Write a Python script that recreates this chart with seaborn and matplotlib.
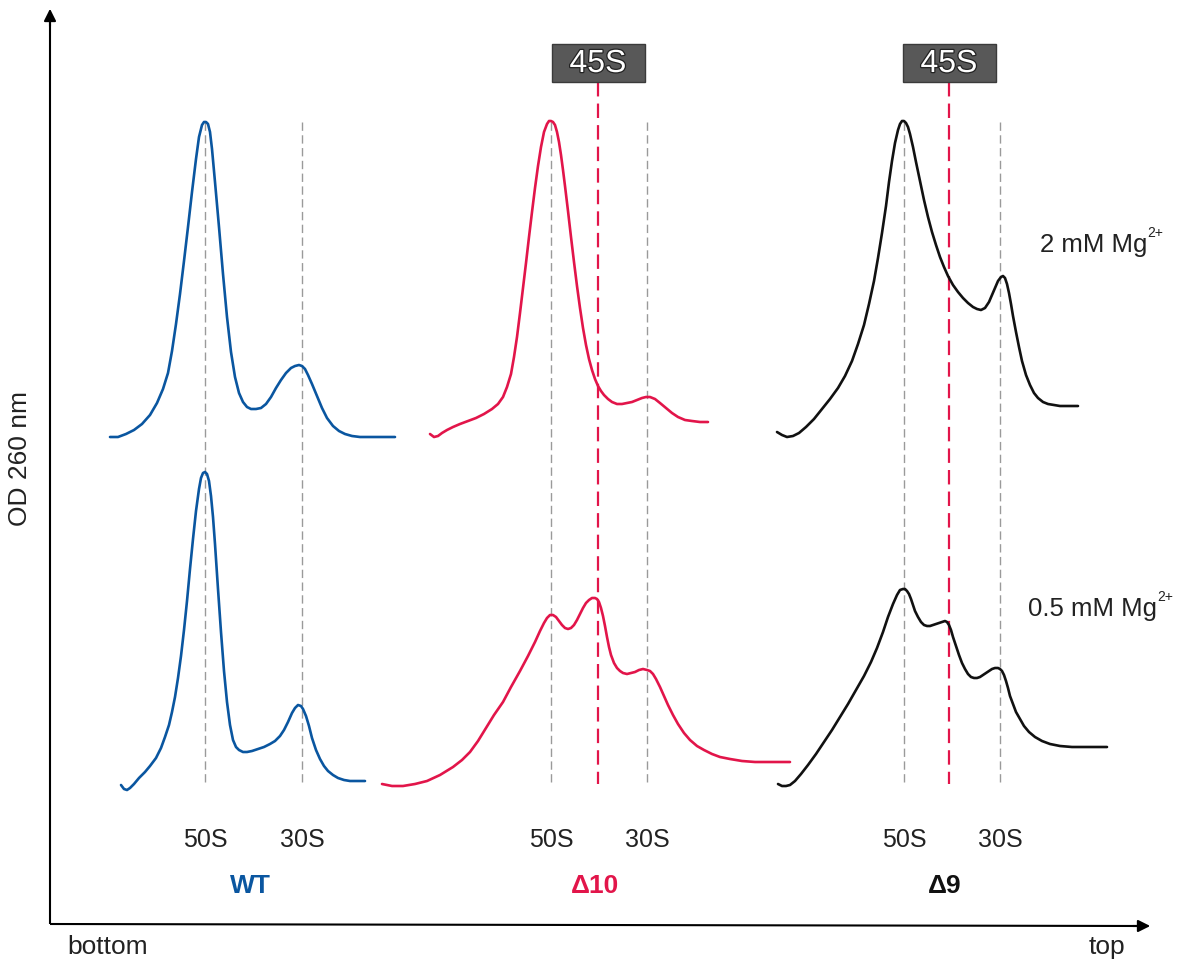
import numpy as np
import pandas as pd
import matplotlib
matplotlib.use("Agg")
import matplotlib.pyplot as plt
import matplotlib.patheffects as pe
from matplotlib.patches import Rectangle
import seaborn as sns

sns.set_theme(style="white")
plt.rcParams['font.family'] = ['Liberation Sans', 'DejaVu Sans']

# ---- data: traced gradient profiles (x = position along gradient, y = screen depth, smaller = higher OD)
wt_hi_x = [110, 118, 126, 134, 142, 150, 157, 163, 168, 172, 176, 180, 184, 188, 192, 196, 199, 202, 204, 206, 208, 210, 212, 215, 219, 223, 227, 231, 235, 239, 243, 247, 251, 256, 261, 266, 271, 276, 281, 286, 291, 295, 299, 302, 305, 308, 312, 317, 322, 327, 333, 339, 345, 352, 360, 370, 382, 395]
wt_hi_y = [438, 438, 435, 431, 425, 416, 404, 390, 374, 352, 325, 295, 262, 228, 193, 160, 138, 126, 123, 123, 125, 133, 150, 183, 228, 275, 318, 353, 378, 394, 403, 408, 410, 410, 409, 405, 398, 389, 381, 374, 369, 367, 366, 367, 370, 376, 385, 397, 409, 419, 427, 432, 435, 437, 438, 438, 438, 438]

wt_lo_x = [121, 124, 127, 130, 134, 139, 145, 150, 156, 161, 165, 169, 172, 175, 178, 181, 184, 187, 190, 193, 196, 199, 201, 203, 205, 207, 209, 211, 213, 215, 218, 221, 224, 227, 230, 233, 236, 239, 243, 247, 252, 258, 264, 270, 275, 280, 284, 288, 292, 295, 298, 301, 303, 306, 309, 312, 316, 320, 324, 328, 333, 338, 344, 350, 357, 365]
wt_lo_y = [786, 790, 791, 789, 785, 779, 773, 767, 759, 749, 738, 726, 713, 698, 679, 657, 631, 602, 570, 540, 512, 490, 479, 474, 473, 475, 482, 497, 518, 545, 590, 633, 672, 703, 726, 741, 748, 751, 753, 753, 752, 750, 748, 745, 742, 737, 731, 723, 714, 709, 706, 707, 710, 717, 727, 739, 751, 760, 767, 772, 776, 779, 781, 782, 782, 782]

d10_hi_x = [430, 434, 438, 442, 447, 453, 460, 468, 476, 484, 492, 498, 503, 507, 511, 514, 517, 520, 523, 526, 529, 532, 535, 538, 541, 544, 547, 549, 551, 553, 555, 557, 559, 561, 563, 565, 568, 571, 574, 577, 580, 583, 586, 589, 592, 595, 598, 601, 604, 608, 612, 617, 622, 627, 632, 637, 642, 646, 650, 655, 660, 666, 672, 678, 685, 692, 700, 708]
d10_hi_y = [435, 438, 437, 434, 431, 428, 425, 422, 419, 415, 410, 405, 398, 388, 375, 358, 338, 314, 289, 264, 238, 213, 189, 167, 148, 133, 125, 122, 122, 123, 126, 133, 143, 156, 171, 187, 212, 238, 263, 287, 309, 329, 346, 360, 371, 380, 387, 392, 396, 400, 403, 405, 405, 404, 403, 401, 399, 398, 398, 400, 404, 409, 414, 418, 421, 422, 423, 423]

d10_lo_x = [382, 392, 403, 415, 427, 440, 453, 462, 470, 478, 486, 494, 503, 511, 520, 528, 535, 540, 544, 547, 550, 553, 556, 559, 562, 565, 568, 571, 574, 577, 580, 583, 586, 589, 592, 595, 597, 599, 601, 603, 605, 607, 609, 611, 614, 617, 620, 623, 627, 631, 635, 639, 643, 647, 650, 653, 656, 660, 664, 668, 673, 678, 684, 690, 697, 704, 712, 720, 730, 742, 755, 770, 790]
d10_lo_y = [785, 787, 787, 785, 782, 776, 768, 761, 753, 742, 729, 716, 703, 688, 672, 657, 643, 632, 624, 619, 616, 616, 618, 622, 626, 629, 630, 629, 626, 621, 615, 609, 604, 601, 599, 599, 600, 603, 609, 617, 627, 638, 648, 656, 664, 669, 672, 674, 675, 674, 673, 671, 670, 671, 672, 675, 680, 688, 697, 706, 716, 725, 734, 741, 747, 751, 755, 758, 760, 762, 763, 763, 763]

d9_hi_x = [777, 782, 787, 793, 799, 806, 814, 822, 830, 838, 845, 852, 858, 864, 869, 874, 878, 882, 886, 889, 892, 895, 898, 900, 902, 904, 906, 908, 910, 913, 916, 920, 924, 928, 932, 936, 940, 944, 948, 953, 958, 963, 968, 973, 977, 981, 985, 989, 992, 995, 998, 1001, 1003, 1005, 1007, 1009, 1011, 1013, 1016, 1019, 1022, 1026, 1030, 1034, 1038, 1043, 1048, 1054, 1060, 1068, 1078]
d9_hi_y = [433, 436, 438, 437, 434, 428, 420, 410, 400, 389, 377, 362, 345, 326, 305, 282, 259, 234, 207, 183, 162, 144, 131, 125, 122, 122, 124, 128, 135, 148, 163, 182, 201, 218, 233, 246, 258, 268, 277, 286, 293, 299, 304, 308, 310, 311, 309, 303, 296, 289, 282, 278, 277, 279, 285, 294, 305, 317, 333, 348, 362, 376, 386, 394, 399, 403, 405, 406, 407, 407, 407]

d9_lo_x = [778, 782, 786, 790, 795, 801, 808, 816, 824, 832, 840, 848, 856, 864, 871, 877, 883, 888, 893, 897, 900, 903, 905, 907, 909, 911, 913, 915, 918, 921, 924, 927, 930, 933, 936, 939, 942, 945, 947, 949, 951, 953, 956, 959, 962, 965, 968, 971, 974, 977, 980, 983, 986, 989, 992, 995, 998, 1000, 1002, 1004, 1006, 1008, 1010, 1013, 1016, 1020, 1024, 1029, 1035, 1042, 1050, 1060, 1072, 1088, 1107]
d9_lo_y = [785, 787, 787, 786, 782, 775, 766, 755, 743, 731, 718, 705, 691, 677, 663, 649, 633, 618, 605, 596, 591, 590, 590, 592, 595, 600, 606, 612, 618, 623, 626, 627, 627, 626, 625, 624, 623, 622, 623, 626, 631, 638, 647, 656, 664, 670, 675, 678, 679, 679, 678, 676, 674, 672, 670, 669, 669, 670, 672, 676, 682, 689, 697, 705, 713, 720, 727, 733, 738, 742, 745, 747, 748, 748, 748]

# marker positions per strain
strains = ["WT", "Δ10", "Δ9"]
pos_50S = [205, 551, 904]
pos_30S = [302, 647, 1000]
pos_45S = [None, 598, 949]
strain_colors = ["#0a56a0", "#e2154a", "#111111"]
conditions = ["2 mM Mg", "0.5 mM Mg"]

fig = plt.figure(figsize=(11.86, 9.62), dpi=100)
ax = fig.add_axes([0, 0, 1, 1])

# gray marker lines
for x50, x30 in zip(pos_50S, pos_30S):
    for xv in (x50, x30):
        ax.plot([xv, xv], [123, 785], color="#9a9a9a", lw=1.0, dashes=(6, 3.2), zorder=1)
# 45S red lines
for x45 in pos_45S:
    if x45 is not None:
        ax.plot([x45, x45], [83, 785], color="#e2154a", lw=1.6, dashes=(6.5, 3.2), zorder=2)

profiles = [
    (wt_hi_x, wt_hi_y, 0), (wt_lo_x, wt_lo_y, 0),
    (d10_hi_x, d10_hi_y, 1), (d10_lo_x, d10_lo_y, 1),
    (d9_hi_x, d9_hi_y, 2), (d9_lo_x, d9_lo_y, 2),
]
for px, py, ci in profiles:
    df = pd.DataFrame({"x": px, "y": py})
    sns.lineplot(data=df, x="x", y="y", sort=False, estimator=None,
                 color=strain_colors[ci], lw=1.9, ax=ax, zorder=3,
                 solid_joinstyle="round", solid_capstyle="round")
ax.set_xlim(0, 1186)
ax.set_ylim(962, 0)
ax.set_axis_off()

# axes arrows
ax.plot([50, 50], [925, 20], color="black", lw=1.5, solid_capstyle="butt", zorder=4)
ax.annotate("", xy=(50, 7), xytext=(50, 30),
            arrowprops=dict(arrowstyle="-|>", color="black", lw=1.5, mutation_scale=18))
ax.plot([50, 1140], [925, 927], color="black", lw=1.5, solid_capstyle="butt", zorder=4)
ax.annotate("", xy=(1153, 927), xytext=(1130, 927),
            arrowprops=dict(arrowstyle="-|>", color="black", lw=1.5, mutation_scale=18))

ax.text(20, 459, "OD 260 nm", rotation=90, ha="center", va="center", fontsize=19, color="#222222")
ax.text(108, 947, "bottom", ha="center", va="center", fontsize=19, color="#222222")
ax.text(1107, 947, "top", ha="center", va="center", fontsize=19, color="#222222")

# fraction labels
for x50, x30 in zip(pos_50S, pos_30S):
    ax.text(x50, 840, "50S", ha="center", va="center", fontsize=18, color="#222222")
    ax.text(x30, 840, "30S", ha="center", va="center", fontsize=18, color="#222222")
strain_label_x = [250, 595, 945]
for s, xl, c in zip(strains, strain_label_x, strain_colors):
    ax.text(xl, 886, s, ha="center", va="center", fontsize=19, fontweight="bold", color=c)

# 45S boxes
for x45 in pos_45S:
    if x45 is None:
        continue
    ax.add_patch(Rectangle((x45 - 46, 45), 93, 38, facecolor="#585858",
                           edgecolor="#3a3a3a", lw=1.0, zorder=5))
    t = ax.text(x45, 65, "45S", ha="center", va="center", fontsize=23, color="white", zorder=6)
    t.set_path_effects([pe.withStroke(linewidth=1.8, foreground="#222222")])

# condition labels
cond_pos = [(1040, 252), (1028, 616)]
for lab, (xc, yc) in zip(conditions, cond_pos):
    t = ax.text(xc, yc, lab, ha="left", va="baseline", fontsize=18.5, color="#222222")
    ax.annotate("2+", xy=(1.0, 0.72), xycoords=t, ha="left", va="bottom",
                fontsize=10, color="#222222")

fig.savefig("out.png", dpi=100)
